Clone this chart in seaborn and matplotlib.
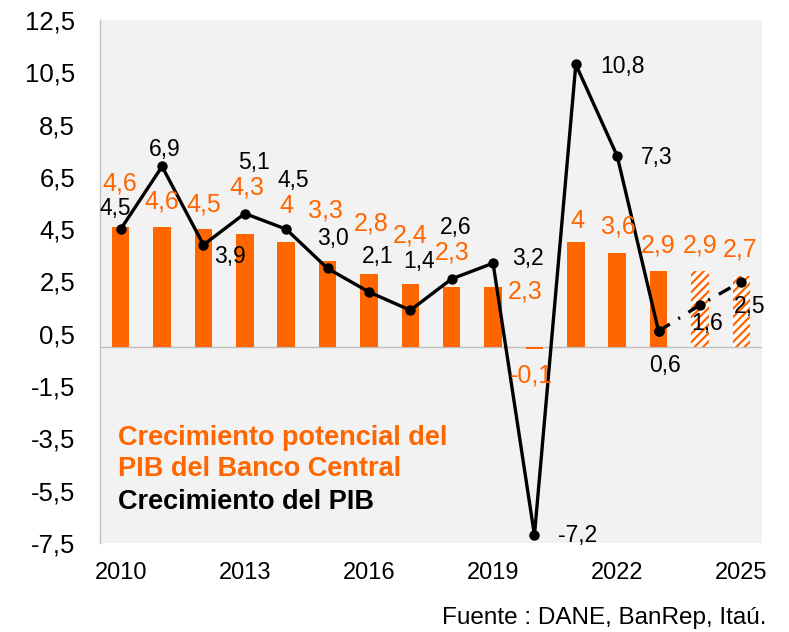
import numpy as np
import pandas as pd
import matplotlib
matplotlib.use("Agg")
import matplotlib.pyplot as plt
import seaborn as sns

# ---------------- data ----------------
years = [2010, 2011, 2012, 2013, 2014, 2015, 2016, 2017,
         2018, 2019, 2020, 2021, 2022, 2023, 2024, 2025]
potential = [4.6, 4.6, 4.5, 4.3, 4.0, 3.3, 2.8, 2.4,
             2.3, 2.3, -0.1, 4.0, 3.6, 2.9, 2.9, 2.7]
gdp = [4.5, 6.9, 3.9, 5.1, 4.5, 3.0, 2.1, 1.4,
       2.6, 3.2, -7.2, 10.8, 7.3, 0.6, 1.6, 2.5]
potential_labels = ['4,6', '4,6', '4,5', '4,3', '4', '3,3', '2,8', '2,4',
                    '2,3', '2,3', '-0,1', '4', '3,6', '2,9', '2,9', '2,7']
gdp_labels = ['4,5', '6,9', '3,9', '5,1', '4,5', '3,0', '2,1', '1,4',
              '2,6', '3,2', '-7,2', '10,8', '7,3', '0,6', '1,6', '2,5']
forecast_years = [2024, 2025]
last_actual_year = 2023
yticks = [-7.5, -5.5, -3.5, -1.5, 0.5, 2.5, 4.5, 6.5, 8.5, 10.5, 12.5]
ytick_labels = ['-7,5', '-5,5', '-3,5', '-1,5', '0,5', '2,5', '4,5',
                '6,5', '8,5', '10,5', '12,5']
xtick_years = [2010, 2013, 2016, 2019, 2022, 2025]
legend_potential = ["Crecimiento potencial del", "PIB del Banco Central"]
legend_gdp = "Crecimiento del PIB"
source_text = "Fuente : DANE, BanRep, Itaú."

# ---------------- style / layout (pixel offsets of labels) ----------------
pot_off = [(-1, -43), (0, -25), (0, -25), (1.5, -47), (0, -36), (-2, -50),
           (2, -50), (0, -49), (0, -34), (32, 5), (-3, 26), (2, -21),
           (1, -26), (0, -26), (0, -26), (-1, -27)]
gdp_off = [(-5, -21), (3, -17), (27, 12), (9, -51), (7, -49), (5, -30),
           (9, -35), (9, -49), (4, -51), (35, -5), (43, 0), (47, 2),
           (39, 2), (6, 34), (7, 18), (8, 25)]

ORANGE = '#FF6600'
sns.set_style("white")
plt.rcParams['font.family'] = ['Liberation Sans', 'DejaVu Sans']
plt.rcParams['hatch.linewidth'] = 1.6

df = pd.DataFrame({'year': years, 'potential': potential, 'gdp': gdp})
df['pos'] = np.arange(len(df))

fig = plt.figure(figsize=(7.89, 6.32), dpi=100)
ax = fig.add_axes([100 / 789, 1 - 543 / 632, 662 / 789, 523 / 632])
ax.set_facecolor('#f2f2f2')

sns.barplot(data=df, x='year', y='potential', color=ORANGE, saturation=1,
            width=0.42, errorbar=None, ax=ax, zorder=2)
for patch, yr in zip(ax.patches, years):
    patch.set_linewidth(0)
    if yr in forecast_years:
        patch.set_facecolor('white')
        patch.set_edgecolor(ORANGE)
        patch.set_hatch('////')

ax.axhline(0, color='#bfbfbf', lw=1, zorder=1)

cut = years.index(last_actual_year)
solid = df.iloc[:cut + 1]
dashed = df.iloc[cut:]
sns.lineplot(x=solid['pos'], y=solid['gdp'], color='black', linewidth=2.4,
             marker='o', markersize=7.5, markeredgewidth=0, ax=ax, zorder=4)
sns.lineplot(x=dashed['pos'], y=dashed['gdp'], color='black', linewidth=2.4,
             marker='o', markersize=7.5, markeredgewidth=0, ax=ax, zorder=4,
             linestyle=(0, (4, 3, 0.6, 3)))

for i in range(len(years)):
    dx, dy = pot_off[i]
    ax.annotate(potential_labels[i], (df['pos'][i], potential[i]),
                xytext=(dx, -dy), textcoords='offset pixels',
                ha='center', va='center', color=ORANGE, fontsize=18, zorder=5)
    dx, dy = gdp_off[i]
    ax.annotate(gdp_labels[i], (df['pos'][i], gdp[i]),
                xytext=(dx, -dy), textcoords='offset pixels',
                ha='center', va='center', color='black', fontsize=16.5, zorder=5)

ax.set_ylim(-7.5, 12.5)
ax.set_xlim(-0.5, len(years) - 0.5)
ax.set_yticks(yticks)
ax.set_yticklabels(ytick_labels)
ax.set_xticks([years.index(y) for y in xtick_years])
ax.set_xticklabels([str(y) for y in xtick_years])
ax.tick_params(axis='y', length=0, pad=18, labelsize=18.5, colors='black')
ax.tick_params(axis='x', length=0, pad=14, labelsize=17, colors='black')
ax.set_xlabel('')
ax.set_ylabel('')
for s in ['top', 'right', 'bottom']:
    ax.spines[s].set_visible(False)
ax.spines['left'].set_color('#bfbfbf')
ax.spines['left'].set_linewidth(1)

for txt, ypix in zip(legend_potential, [438, 469]):
    fig.text(118 / 789, 1 - ypix / 632, txt, color=ORANGE,
             fontsize=19.5, fontweight='bold', ha='left', va='center')
fig.text(118 / 789, 1 - 502 / 632, legend_gdp, color='black',
         fontsize=19.5, fontweight='bold', ha='left', va='center')
fig.text(766 / 789, 1 - 618 / 632, source_text, color='black',
         fontsize=17.5, ha='right', va='center')

fig.savefig('out.png', dpi=100)
